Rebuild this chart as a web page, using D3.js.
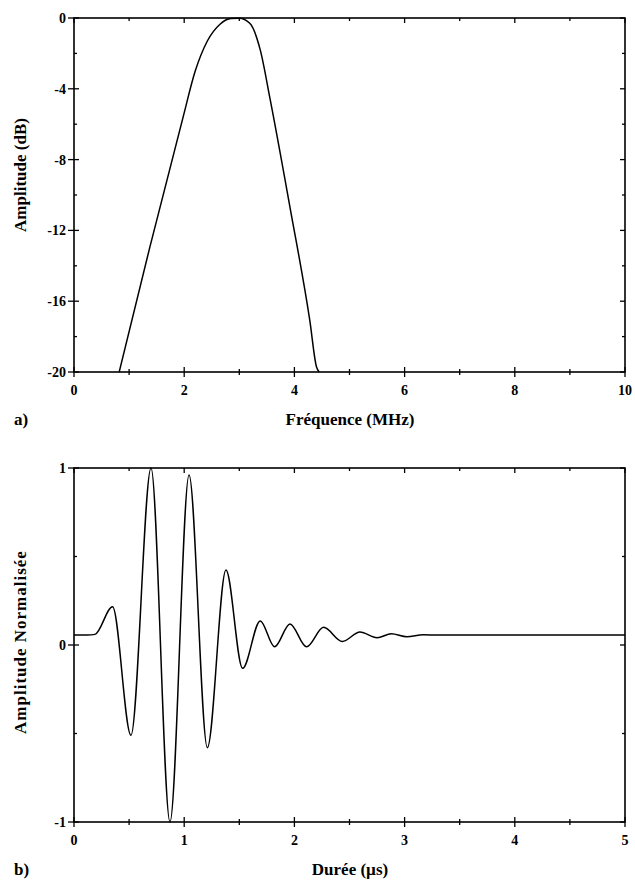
<!DOCTYPE html>
<html>

<head>
    <meta charset="utf-8">
    <title>Spectre et impulsion</title>
    <style>
        body { margin: 0; background: #fff; }
        text { font-family: "Liberation Serif", "Times New Roman", Times, "Noto Serif", "DejaVu Serif", serif; font-weight: bold; fill: #000; }
        .tick-label { font-size: 14px; }
        .axis-title { font-size: 17px; }
        .frame { fill: none; stroke: #000; stroke-width: 1.6; }
        .curve { fill: none; stroke: #000; stroke-width: 1.5; }
        .tk { stroke: #000; stroke-width: 1.3; }
    </style>
</head>

<body>
    <svg width="635" height="883"></svg>
    <script src="https://d3js.org/d3.v7.min.js"></script>
    <script>
        // Spectre (a)
        var freqMHz = [0.82, 1.38, 1.98, 2.2, 2.42, 2.65, 2.85, 3.0, 3.19, 3.38, 3.56, 3.92, 4.28, 4.40, 4.45];
        var ampDB = [-20, -12.9, -5.6, -3.0, -1.3, -0.35, -0.03, -0.02, -0.3, -1.8, -4.6, -10.7, -17.1, -19.7, -20];
        var freqTicks = [0, 2, 4, 6, 8, 10];
        var dbTicks = [0, -4, -8, -12, -16, -20];

        // Impulsion (b)
        var timeUs = [0, 0.12, 0.19, 0.35, 0.517, 0.699, 0.871, 1.044, 1.21, 1.379, 1.53, 1.69, 1.82, 1.96, 2.11, 2.265, 2.435, 2.595, 2.75, 2.88, 3.02, 3.17, 3.3, 5];
        var ampNorm = [0.056, 0.056, 0.06, 0.216, -0.51, 1.0, -1.0, 0.96, -0.58, 0.424, -0.132, 0.136, -0.01, 0.119, -0.01, 0.10, 0.02, 0.073, 0.041, 0.064, 0.047, 0.058, 0.056, 0.056];
        var timeTicks = [0, 1, 2, 3, 4, 5];
        var normTicks = [1, 0, -1];

        var svg = d3.select("svg");

        function panel(o) {
            var x = d3.scaleLinear().domain(o.xDomain).range([74, 625]);
            var y = d3.scaleLinear().domain(o.yDomain).range([o.bottom, o.top]);
            var g = svg.append("g");

            // minor ticks (inward) on all sides
            o.xMinor.forEach(function (v) {
                g.append("line").attr("class", "tk").attr("x1", x(v)).attr("x2", x(v))
                    .attr("y1", o.bottom + 3).attr("y2", o.bottom - 3);
                g.append("line").attr("class", "tk").attr("x1", x(v)).attr("x2", x(v))
                    .attr("y1", o.top).attr("y2", o.top + 3);
            });
            o.yMinor.forEach(function (v) {
                g.append("line").attr("class", "tk").attr("x1", 74).attr("x2", 77)
                    .attr("y1", y(v)).attr("y2", y(v));
                g.append("line").attr("class", "tk").attr("x1", 625).attr("x2", 622)
                    .attr("y1", y(v)).attr("y2", y(v));
            });

            // major ticks + labels
            o.xTicks.forEach(function (v) {
                g.append("line").attr("class", "tk").attr("x1", x(v)).attr("x2", x(v))
                    .attr("y1", o.bottom + 5).attr("y2", o.bottom - 5);
                g.append("line").attr("class", "tk").attr("x1", x(v)).attr("x2", x(v))
                    .attr("y1", o.top).attr("y2", o.top + 5);
                g.append("text").attr("class", "tick-label")
                    .attr("x", x(v)).attr("y", o.bottom + 23)
                    .attr("text-anchor", "middle").text(v);
            });
            o.yTicks.forEach(function (v) {
                g.append("line").attr("class", "tk").attr("x1", 68).attr("x2", 79)
                    .attr("y1", y(v)).attr("y2", y(v));
                g.append("line").attr("class", "tk").attr("x1", 625).attr("x2", 620)
                    .attr("y1", y(v)).attr("y2", y(v));
                g.append("text").attr("class", "tick-label")
                    .attr("x", 66).attr("y", y(v)).attr("dy", "0.35em")
                    .attr("text-anchor", "end").text(v);
            });

            g.append("rect").attr("class", "frame")
                .attr("x", 74).attr("y", o.top)
                .attr("width", 625 - 74).attr("height", o.bottom - o.top);

            var line = d3.line()
                .x(function (d) { return x(d[0]); })
                .y(function (d) { return y(d[1]); })
                .curve(d3.curveMonotoneX);
            g.append("path").attr("class", "curve")
                .attr("d", line(d3.zip(o.xs, o.ys)));

            g.append("text").attr("class", "axis-title")
                .attr("x", 350).attr("y", o.bottom + 53)
                .attr("text-anchor", "middle").text(o.xTitle);
            g.append("text").attr("class", "axis-title")
                .attr("transform", "translate(26," + o.yTitleY + ") rotate(-90)")
                .attr("text-anchor", "middle")
                .style("letter-spacing", o.yTitleSpacing || "0px")
                .text(o.yTitle);
            g.append("text").attr("class", "axis-title")
                .attr("x", 14).attr("y", o.bottom + 53).text(o.tag);
        }

        panel({
            xDomain: [0, 10], yDomain: [-20, 0], top: 18, bottom: 372,
            xs: freqMHz, ys: ampDB,
            xTicks: freqTicks, yTicks: dbTicks,
            xMinor: [1, 3, 5, 7, 9], yMinor: [-2, -6, -10, -14, -18],
            xTitle: "Fréquence (MHz)", yTitle: "Amplitude (dB)", yTitleY: 175, tag: "a)"
        });

        panel({
            xDomain: [0, 5], yDomain: [-1, 1], top: 468, bottom: 822,
            xs: timeUs, ys: ampNorm,
            xTicks: timeTicks, yTicks: normTicks,
            xMinor: [0.5, 1.5, 2.5, 3.5, 4.5], yMinor: [0.5, -0.5],
            xTitle: "Durée (µs)", yTitle: "Amplitude Normalisée", yTitleY: 642, yTitleSpacing: "1px", tag: "b)"
        });
    </script>
</body>

</html>
